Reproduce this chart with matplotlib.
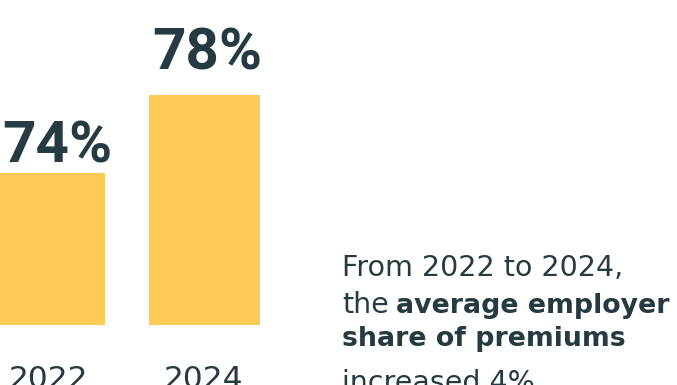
import matplotlib
matplotlib.use("Agg")
import matplotlib.pyplot as plt

# data
years = ["2022", "2024"]
shares = [74, 78]

BAR = "#FFC955"
INK = "#263A41"

fig = plt.figure(figsize=(6.77, 3.85), dpi=100)
ax = fig.add_axes([0, 60 / 385, 1, 325 / 385])

x = list(range(len(years)))
ax.bar(x, shares, width=0.718, color=BAR)
ax.set_xlim(-0.3236, 4.0583)
ax.set_ylim(66.2, 82.87)
ax.axis("off")

# value labels above the bars (offsets in pixels)
label_dx = [7, 3]
label_gap = [10, 25]
for i, v in enumerate(shares):
    ax.annotate(f"{v}%", xy=(i, v), xytext=(label_dx[i], label_gap[i]),
                textcoords="offset pixels", ha="center", va="baseline",
                fontsize=42, fontweight="bold", family="Roboto", color=INK)

# year labels under the bars
for i, yr in enumerate(years):
    ax.annotate(yr, xy=(i, 0), xycoords=("data", "axes fraction"),
                xytext=(-1, -63), textcoords="offset pixels",
                ha="center", va="baseline", fontsize=22.5,
                family="DejaVu Sans", color=INK, annotation_clip=False)

# side note
fs = 20.5
fsb = 19.3


def px(xp, yp):
    return xp / 677, 1 - yp / 385


fig.text(*px(342, 276), "From 2022 to 2024,", fontsize=fs,
         family="DejaVu Sans", color=INK, va="baseline")
fig.text(*px(342, 313), "the", fontsize=fs,
         family="DejaVu Sans", color=INK, va="baseline")
fig.text(*px(396, 313), "average employer", fontsize=fsb,
         family="DejaVu Sans", fontweight="bold", color=INK, va="baseline")
fig.text(*px(342, 346), "share of premiums", fontsize=fsb,
         family="DejaVu Sans", fontweight="bold", color=INK, va="baseline")
fig.text(*px(342, 391), "increased 4%", fontsize=fs,
         family="DejaVu Sans", color=INK, va="baseline")

fig.savefig("out.png", dpi=100)
